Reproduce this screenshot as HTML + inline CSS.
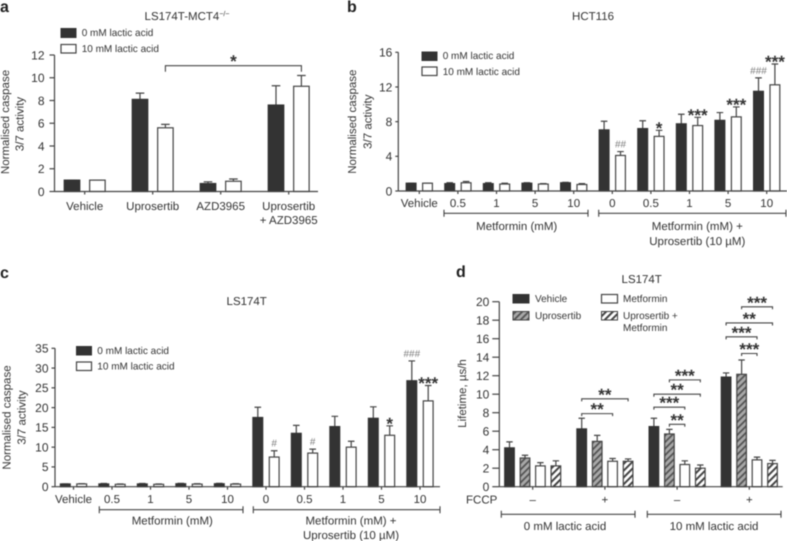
<!DOCTYPE html>
<html lang="en">
<head>
<meta charset="utf-8">
<title>Caspase activity and lifetime bar charts</title>
<style>
html,body{margin:0;padding:0;background:#fff;}
svg{display:block;filter:blur(0.4px);}
text{font-family:"Liberation Sans",sans-serif;fill:#333;font-size:11.5px;text-rendering:geometricPrecision;}
.leg{font-size:10px;}
.letter{font-size:16px;font-weight:bold;fill:#222;}
</style>
</head>
<body>
<svg id="figure" xmlns="http://www.w3.org/2000/svg" width="787" height="541" viewBox="0 0 787 541">
<defs>
<pattern id="hatch-grey" patternUnits="userSpaceOnUse" width="4.6" height="4.6" patternTransform="rotate(45)">
<rect width="4.6" height="4.6" fill="#a8a8a8"/><rect width="1.8" height="4.6" fill="#555"/>
</pattern>
<pattern id="hatch-white" patternUnits="userSpaceOnUse" width="4.8" height="4.8" patternTransform="rotate(45)">
<rect width="4.8" height="4.8" fill="#fff"/><rect width="2" height="4.8" fill="#444"/>
</pattern>
</defs>

<text class="letter" x="0" y="12">a</text>
<text class="letter" x="347" y="12">b</text>
<text class="letter" x="0" y="278">c</text>
<text class="letter" x="456" y="277">d</text>

<text x="187" y="20" text-anchor="middle">LS174T-MCT4<tspan dy="-4" font-size="7" style="font-size:7px">−/−</tspan></text>
<text x="593" y="20" text-anchor="middle">HCT116</text>
<text x="246.7" y="305" text-anchor="middle">LS174T</text>
<text x="641.7" y="283" text-anchor="middle">LS174T</text>

<text transform="translate(9,122) rotate(-90)" text-anchor="middle">Normalised caspase</text>
<text transform="translate(23.5,124) rotate(-90)" text-anchor="middle">3/7 activity</text>
<text transform="translate(356,121.7) rotate(-90)" text-anchor="middle">Normalised caspase</text>
<text transform="translate(371.5,121.7) rotate(-90)" text-anchor="middle">3/7 activity</text>
<text transform="translate(10.5,417.5) rotate(-90)" text-anchor="middle">Normalised caspase</text>
<text transform="translate(25.5,417.5) rotate(-90)" text-anchor="middle">3/7 activity</text>
<text transform="translate(466,393.5) rotate(-90)" text-anchor="middle">Lifetime, µs/h</text>

<g>
<rect x="61" y="28.5" width="15" height="9" fill="#333" stroke="#333" stroke-width="1"/>
<text class="leg" x="81.7" y="36">0 mM lactic acid</text>
<rect x="61" y="44.5" width="15" height="8.5" fill="#fff" stroke="#444" stroke-width="1.2"/>
<text class="leg" x="81.7" y="52">10 mM lactic acid</text>
</g>
<g>
<rect x="422" y="52" width="15" height="8.5" fill="#333" stroke="#333" stroke-width="1"/>
<text class="leg" x="442.7" y="58.8">0 mM lactic acid</text>
<rect x="422" y="67" width="15" height="8.5" fill="#fff" stroke="#444" stroke-width="1.2"/>
<text class="leg" x="442.7" y="74.8">10 mM lactic acid</text>
</g>
<g>
<rect x="76.5" y="346.5" width="15" height="8.5" fill="#333" stroke="#333" stroke-width="1"/>
<text class="leg" x="97.3" y="354">0 mM lactic acid</text>
<rect x="76.5" y="362" width="15" height="8.5" fill="#fff" stroke="#444" stroke-width="1.2"/>
<text class="leg" x="97.3" y="369.6">10 mM lactic acid</text>
</g>
<g>
<rect x="513" y="294.5" width="16" height="8.5" fill="#333" stroke="#333" stroke-width="1"/>
<text class="leg" x="535" y="302">Vehicle</text>
<rect x="513" y="311.5" width="16" height="8.5" fill="url(#hatch-grey)" stroke="#444" stroke-width="1"/>
<text class="leg" x="535" y="319">Uprosertib</text>
<rect x="601.5" y="294.5" width="16" height="8.5" fill="#fff" stroke="#444" stroke-width="1.2"/>
<text class="leg" x="623" y="302">Metformin</text>
<rect x="601.5" y="311.5" width="16" height="8.5" fill="url(#hatch-white)" stroke="#444" stroke-width="1"/>
<text class="leg" x="623" y="319">Uprosertib +</text>
<text class="leg" x="623" y="331">Metformin</text>
</g>

<g>
<path d="M444 209.8V216.8M444 213.3H588M588 209.8V216.8" fill="none" stroke="#444" stroke-width="1.1"/>
<path d="M598.7 209.8V216.8M598.7 213.3H786M786 209.8V216.8" fill="none" stroke="#444" stroke-width="1.1"/>
<text x="516.7" y="230" text-anchor="middle">Metformin (mM)</text>
<text x="697.3" y="230" text-anchor="middle">Metformin (mM) +</text>
<text x="697.3" y="245" text-anchor="middle">Uprosertib (10 µM)</text>
</g>
<g>
<path d="M99.3 506.2V513.2M99.3 509.7H243M243 506.2V513.2" fill="none" stroke="#444" stroke-width="1.1"/>
<path d="M253.3 506.2V513.2M253.3 509.7H440M440 506.2V513.2" fill="none" stroke="#444" stroke-width="1.1"/>
<text x="172.3" y="524.5" text-anchor="middle">Metformin (mM)</text>
<text x="351" y="524.5" text-anchor="middle">Metformin (mM) +</text>
<text x="351" y="539" text-anchor="middle">Uprosertib (10 µM)</text>
</g>
<g>
<text x="466" y="503.5">FCCP</text>
<path d="M501.3 510.8V517.8M501.3 514.3H635M635 510.8V517.8" fill="none" stroke="#444" stroke-width="1.1"/>
<path d="M647.3 510.8V517.8M647.3 514.3H781M781 510.8V517.8" fill="none" stroke="#444" stroke-width="1.1"/>
<text x="565" y="530" text-anchor="middle">0 mM lactic acid</text>
<text x="714" y="530" text-anchor="middle">10 mM lactic acid</text>
</g>
</svg>

<script>
// Panel a data
const aCategories = ['Vehicle', 'Uprosertib', 'AZD3965', 'Uprosertib\n+ AZD3965'];
const aTicks = [0, 2, 4, 6, 8, 10, 12];
const aLactic0 = [1, 8.1, 0.7, 7.6];
const aLactic0Upper = [1, 8.65, 0.85, 9.3];
const aLactic10 = [1, 5.6, 0.9, 9.25];
const aLactic10Upper = [1, 5.9, 1.1, 10.2];
const aMarks = [];
const aBrackets = [{from: [1, 1], to: [3, 1], level: 11.06, text: '*'}];

// Panel b data
const bCategories = ['Vehicle', '0.5', '1', '5', '10', '0', '0.5', '1', '5', '10'];
const bTicks = [0, 4, 8, 12, 16];
const bLactic0 = [0.9, 0.85, 0.85, 0.9, 0.95, 7.05, 7.2, 7.75, 8.15, 11.5];
const bLactic0Upper = [0.9, 0.95, 0.95, 0.95, 1, 8.05, 8.1, 8.85, 9.05, 13.05];
const bLactic10 = [0.9, 0.95, 0.8, 0.8, 0.75, 4.1, 6.3, 7.55, 8.55, 12.25];
const bLactic10Upper = [0.9, 1.1, 0.9, 0.85, 0.85, 4.55, 7, 8.5, 9.7, 14.65];
const bMarks = [
  {group: 5, series: 1, text: '##'},
  {group: 6, series: 1, text: '*'},
  {group: 7, series: 1, text: '***'},
  {group: 8, series: 1, text: '***'},
  {group: 9, series: 0, text: '###'},
  {group: 9, series: 1, text: '***'}
];

// Panel c data
const cCategories = ['Vehicle', '0.5', '1', '5', '10', '0', '0.5', '1', '5', '10'];
const cTicks = [0, 5, 10, 15, 20, 25, 30, 35];
const cLactic0 = [0.7, 0.7, 0.7, 0.75, 0.75, 17.5, 13.5, 15.2, 17.3, 26.8];
const cLactic0Upper = [0.7, 0.8, 0.8, 0.85, 0.85, 20.1, 15.5, 17.8, 20.2, 31.8];
const cLactic10 = [0.7, 0.6, 0.6, 0.65, 0.65, 7.5, 8.5, 10, 13, 21.7];
const cLactic10Upper = [0.75, 0.7, 0.7, 0.75, 0.75, 9.1, 9.5, 11.5, 15.4, 25.6];
const cMarks = [
  {group: 5, series: 1, text: '#'},
  {group: 6, series: 1, text: '#'},
  {group: 8, series: 1, text: '*'},
  {group: 9, series: 0, text: '###'},
  {group: 9, series: 1, text: '***'}
];

// Panel d data
const dCategories = ['–', '+', '–', '+'];
const dTicks = [0, 2, 4, 6, 8, 10, 12, 14, 16, 18, 20];
const dVehicle = [4.2, 6.25, 6.5, 11.85];
const dVehicleUpper = [4.85, 7.4, 7.4, 12.3];
const dUprosertib = [3.1, 4.9, 5.7, 12.15];
const dUprosertibUpper = [3.4, 5.55, 6.2, 13.7];
const dMetformin = [2.25, 2.75, 2.4, 2.9];
const dMetforminUpper = [2.6, 3.05, 2.8, 3.2];
const dCombo = [2.25, 2.75, 2.0, 2.5];
const dComboUpper = [2.8, 3.0, 2.35, 2.85];
const dMarks = [];
const dBrackets = [
  {from: [1, 0], to: [1, 3], level: 9.5, text: '**'},
  {from: [1, 0], to: [1, 2], level: 7.9, text: '**'},
  {from: [2, 1], to: [2, 2], level: 6.75, text: '**'},
  {from: [2, 0], to: [2, 2], level: 8.6, text: '***'},
  {from: [2, 0], to: [2, 3], level: 10, text: '**'},
  {from: [2, 1], to: [2, 3], level: 11.55, text: '***'},
  {from: [3, 1], to: [3, 2], level: 14.4, text: '***'},
  {from: [3, 0], to: [3, 2], level: 16.2, text: '***'},
  {from: [3, 0], to: [3, 3], level: 17.7, text: '**'},
  {from: [3, 1], to: [3, 3], level: 19.45, text: '***'}
];

const SVGNS = 'http://www.w3.org/2000/svg';
const figure = document.getElementById('figure');
const INK = '#444';

function shape(parent, tag, attrs) {
  const el = document.createElementNS(SVGNS, tag);
  for (const k in attrs) el.setAttribute(k, attrs[k]);
  parent.appendChild(el);
  return el;
}

function drawPanel(p) {
  const group = shape(figure, 'g', {});
  
  

  const yMax = p.ticks[p.ticks.length - 1];
  const yScale = v => p.y0 - (v / yMax) * (p.y0 - p.yTop);
  const xGroup = i => p.x0 + i * p.step;
  const xBar = (g, s) => xGroup(g) + p.offsets[s];

  // bars and error bars
  p.series.forEach((ser, s) => {
    ser.values.forEach((v, g) => {
      const cx = xBar(g, s);
      const up = ser.upper[g];
      const err = shape(group, 'path', {
        d: 'M' + cx + ' ' + yScale(v) + 'V' + yScale(up) + 'M' + (cx - p.cap) + ' ' + yScale(up) + 'H' + (cx + p.cap),
        fill: 'none', stroke: INK, 'stroke-width': 1.2
      });
      
      
      const bar = shape(group, 'rect', {
        x: cx - p.barW / 2, y: yScale(v), width: p.barW, height: p.y0 - yScale(v),
        fill: ser.fill, stroke: ser.stroke, 'stroke-width': 1.2
      });
      
      
    });
  });

  // y axis
  const yAxis = shape(group, 'line', {x1: p.xAxis, x2: p.xAxis, y1: p.yTop, y2: p.y0, stroke: INK, 'stroke-width': 1.2});
  
  
  p.ticks.forEach(t => {
    const tick = shape(group, 'line', {x1: p.xAxis - p.tickLen, x2: p.xAxis, y1: yScale(t), y2: yScale(t), stroke: INK, 'stroke-width': 1.2});
    
    
    const label = shape(group, 'text', {x: p.xAxis - p.labelGap, y: yScale(t) + 4.3, 'text-anchor': 'end', style: 'font-size:12px'});
    label.textContent = String(t);
    
    
  });

  // x axis
  const xAxis = shape(group, 'line', {x1: p.xAxis, x2: p.xEnd, y1: p.y0, y2: p.y0, stroke: INK, 'stroke-width': 1.2});
  
  
  p.categories.forEach((c, i) => {
    const tick = shape(group, 'line', {x1: xGroup(i), x2: xGroup(i), y1: p.y0, y2: p.y0 + 3, stroke: INK, 'stroke-width': 1.2});
    
    
    c.split('\n').forEach((line, n) => {
      const label = shape(group, 'text', {x: xGroup(i), y: p.catY + n * 14, 'text-anchor': 'middle'});
      label.textContent = line;
      
      
    });
  });

  function sigText(text, cx, cy) {
    const isStar = text.charAt(0) === '*';
    const el = shape(group, 'text', {
      x: cx, y: cy + (isStar ? 11 : 3.5), 'text-anchor': 'middle',
      style: isStar ? 'font-size:17px;font-weight:bold;fill:#333' : 'font-size:10px;fill:#777'
    });
    el.textContent = text;
    
    
  }

  // marks above bars
  p.marks.forEach(m => {
    const top = p.series[m.series].upper[m.group];
    sigText(m.text, xBar(m.group, m.series), yScale(top) - 7.5);
  });

  // brackets
  (p.brackets || []).forEach(b => {
    const xa = xBar(b.from[0], b.from[1]);
    const xb = xBar(b.to[0], b.to[1]);
    const yb = yScale(b.level);
    const br = shape(group, 'path', {
      d: 'M' + xa + ' ' + (yb + p.bracketDrop) + 'V' + yb + 'H' + xb + 'V' + (yb + p.bracketDrop),
      fill: 'none', stroke: INK, 'stroke-width': 1.1
    });
    
    
    sigText(b.text, (xa + xb) / 2, yb - p.bracketGap);
  });
}

drawPanel({
  id: 'a', ticks: aTicks, categories: aCategories, marks: aMarks, brackets: aBrackets,
  xAxis: 54.5, xEnd: 318, y0: 191.5, yTop: 55, x0: 84.7, step: 68,
  offsets: [-12.7, 12.7], barW: 15.5, cap: 4.3, tickLen: 5, labelGap: 10, catY: 210, bracketDrop: 6, bracketGap: 9.5,
  series: [
    {name: 'lactic-0mm', values: aLactic0, upper: aLactic0Upper, fill: '#333', stroke: '#333'},
    {name: 'lactic-10mm', values: aLactic10, upper: aLactic10Upper, fill: '#fff', stroke: INK}
  ]
});
drawPanel({
  id: 'b', ticks: bTicks, categories: bCategories, marks: bMarks,
  xAxis: 398.3, xEnd: 787, y0: 191, yTop: 52.3, x0: 419.3, step: 38.6,
  offsets: [-8.2, 8.2], barW: 9.8, cap: 3.3, tickLen: 3, labelGap: 6, catY: 207,
  series: [
    {name: 'lactic-0mm', values: bLactic0, upper: bLactic0Upper, fill: '#333', stroke: '#333'},
    {name: 'lactic-10mm', values: bLactic10, upper: bLactic10Upper, fill: '#fff', stroke: INK}
  ]
});
drawPanel({
  id: 'c', ticks: cTicks, categories: cCategories, marks: cMarks,
  xAxis: 55, xEnd: 440, y0: 486.7, yTop: 348.3, x0: 73.5, step: 38.5,
  offsets: [-8.2, 8.2], barW: 9.8, cap: 3.3, tickLen: 3.5, labelGap: 6.5, catY: 503,
  series: [
    {name: 'lactic-0mm', values: cLactic0, upper: cLactic0Upper, fill: '#333', stroke: '#333'},
    {name: 'lactic-10mm', values: cLactic10, upper: cLactic10Upper, fill: '#fff', stroke: INK}
  ]
});
drawPanel({
  id: 'd', ticks: dTicks, categories: dCategories, marks: dMarks, brackets: dBrackets,
  xAxis: 499.3, xEnd: 782.7, y0: 486.7, yTop: 301.7, x0: 532.7, step: 72.2,
  offsets: [-23.2, -7.7, 7.7, 23.2], barW: 9.6, cap: 3.2, tickLen: 7, labelGap: 10, catY: 503.5, bracketDrop: 2.5, bracketGap: 9.5,
  series: [
    {name: 'vehicle', values: dVehicle, upper: dVehicleUpper, fill: '#333', stroke: '#333'},
    {name: 'uprosertib', values: dUprosertib, upper: dUprosertibUpper, fill: 'url(#hatch-grey)', stroke: INK},
    {name: 'metformin', values: dMetformin, upper: dMetforminUpper, fill: '#fff', stroke: INK},
    {name: 'uprosertib-metformin', values: dCombo, upper: dComboUpper, fill: 'url(#hatch-white)', stroke: INK}
  ]
});
</script>
</body>
</html>
